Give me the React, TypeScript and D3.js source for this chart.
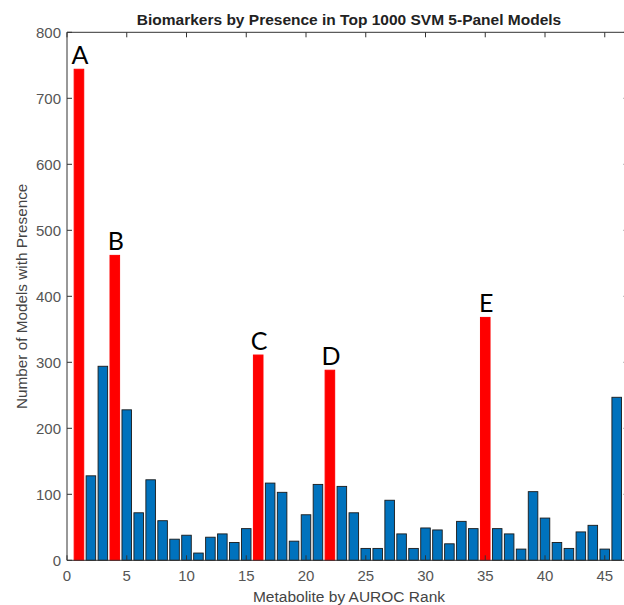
import React from 'react';
import { scaleLinear } from 'd3';

const title = 'Biomarkers by Presence in Top 1000 SVM 5-Panel Models';
const xLabel = 'Metabolite by AUROC Rank';
const yLabel = 'Number of Models with Presence';

// metabolite rank 1..46, count of models containing it
const counts = [
  744, 128, 294, 462, 228, 72, 122, 60, 32, 38,
  11, 35, 40, 27, 48, 311, 117, 103, 29, 69,
  115, 288, 112, 72, 18, 18, 91, 40, 18, 49,
  46, 25, 59, 48, 368, 48, 40, 17, 104, 64,
  27, 18, 43, 53, 17, 247,
];
// highlighted biomarkers and their letter labels
const highlightRanks = [1, 4, 16, 22, 35];
const highlightLabels = ['A', 'B', 'C', 'D', 'E'];

const xTicks = [0, 5, 10, 15, 20, 25, 30, 35, 40, 45];
const yTicks = [0, 100, 200, 300, 400, 500, 600, 700, 800];

const width = 624;
const height = 605;
const margin = { top: 32.3, left: 67, bottom: 560.3 };

const App = () => {
  const x = scaleLinear().domain([0, 47]).range([margin.left, margin.left + 47 * 11.95]);
  const y = scaleLinear().domain([0, 800]).range([margin.bottom, margin.top]);
  const barW = x(0.8) - x(0);
  const axisColor = '#333';
  const tickText = '#555';
  const x0 = x(0);
  const x1 = x(47);

  return (
    <svg
      width={width}
      height={height}
      style={{ position: 'absolute', left: 0, top: 0, background: '#fff' }}
      fontFamily="'Liberation Sans', Arial, sans-serif">
      {/* bars */}
      {counts.map((v, i) => {
        const rank = i + 1;
        const hi = highlightRanks.includes(rank);
        return (
          <rect
            key={rank}
            x={x(rank) - barW / 2}
            y={y(v)}
            width={barW}
            height={y(0) - y(v)}
            fill={hi ? '#ff0000' : '#0072bd'}
            stroke={hi ? '#ff0000' : '#1a1a1a'}
            strokeWidth={hi ? 1 : 0.9}
          />
        );
      })}

      {/* letter labels */}
      {highlightRanks.map((rank, i) => (
        <text
          key={rank}
          x={x(rank) + 1}
          y={y(counts[rank - 1]) - 5}
          textAnchor="middle"
          fontFamily="Lato, 'Open Sans', sans-serif"
          fontSize={25}
          fill="#000">
          {highlightLabels[i]}
        </text>
      ))}

      {/* axes box */}
      <line x1={x0} x2={x0} y1={y(800)} y2={y(0)} stroke={axisColor} />
      <line x1={x1} x2={x1} y1={y(800)} y2={y(0)} stroke={axisColor} />
      <line x1={x0} x2={x1} y1={y(0)} y2={y(0)} stroke={axisColor} />
      <line x1={x0} x2={x1} y1={y(800)} y2={y(800)} stroke={axisColor} />

      {/* x ticks */}
      {xTicks.map(t => (
        <g key={t} transform={`translate(${x(t)},0)`}>
          <line y1={y(0)} y2={y(0) - 5} stroke={axisColor} />
          <line y1={y(800)} y2={y(800) + 5} stroke={axisColor} />
          <text y={y(0) + 21} textAnchor="middle" fontSize={15} fill={tickText}>
            {t}
          </text>
        </g>
      ))}

      {/* y ticks */}
      {yTicks.map(t => (
        <g key={t} transform={`translate(0,${y(t)})`}>
          <line x1={x0} x2={x0 + 5} stroke={axisColor} />
          <line x1={x1} x2={x1 - 5} stroke={axisColor} />
          <text x={x0 - 6} dy="0.35em" textAnchor="end" fontSize={15} fill={tickText}>
            {t}
          </text>
        </g>
      ))}

      {/* labels */}
      <text
        x={349}
        y={25}
        textAnchor="middle"
        fontSize={15.5}
        fontWeight="bold"
        fill="#222">
        {title}
      </text>
      <text x={349} y={602} textAnchor="middle" fontSize={15.5} fill="#444">
        {xLabel}
      </text>
      <text
        transform={`translate(27,${(y(0) + y(800)) / 2}) rotate(-90)`}
        textAnchor="middle"
        fontSize={15.3}
        fill="#444">
        {yLabel}
      </text>
    </svg>
  );
};

export default App;
